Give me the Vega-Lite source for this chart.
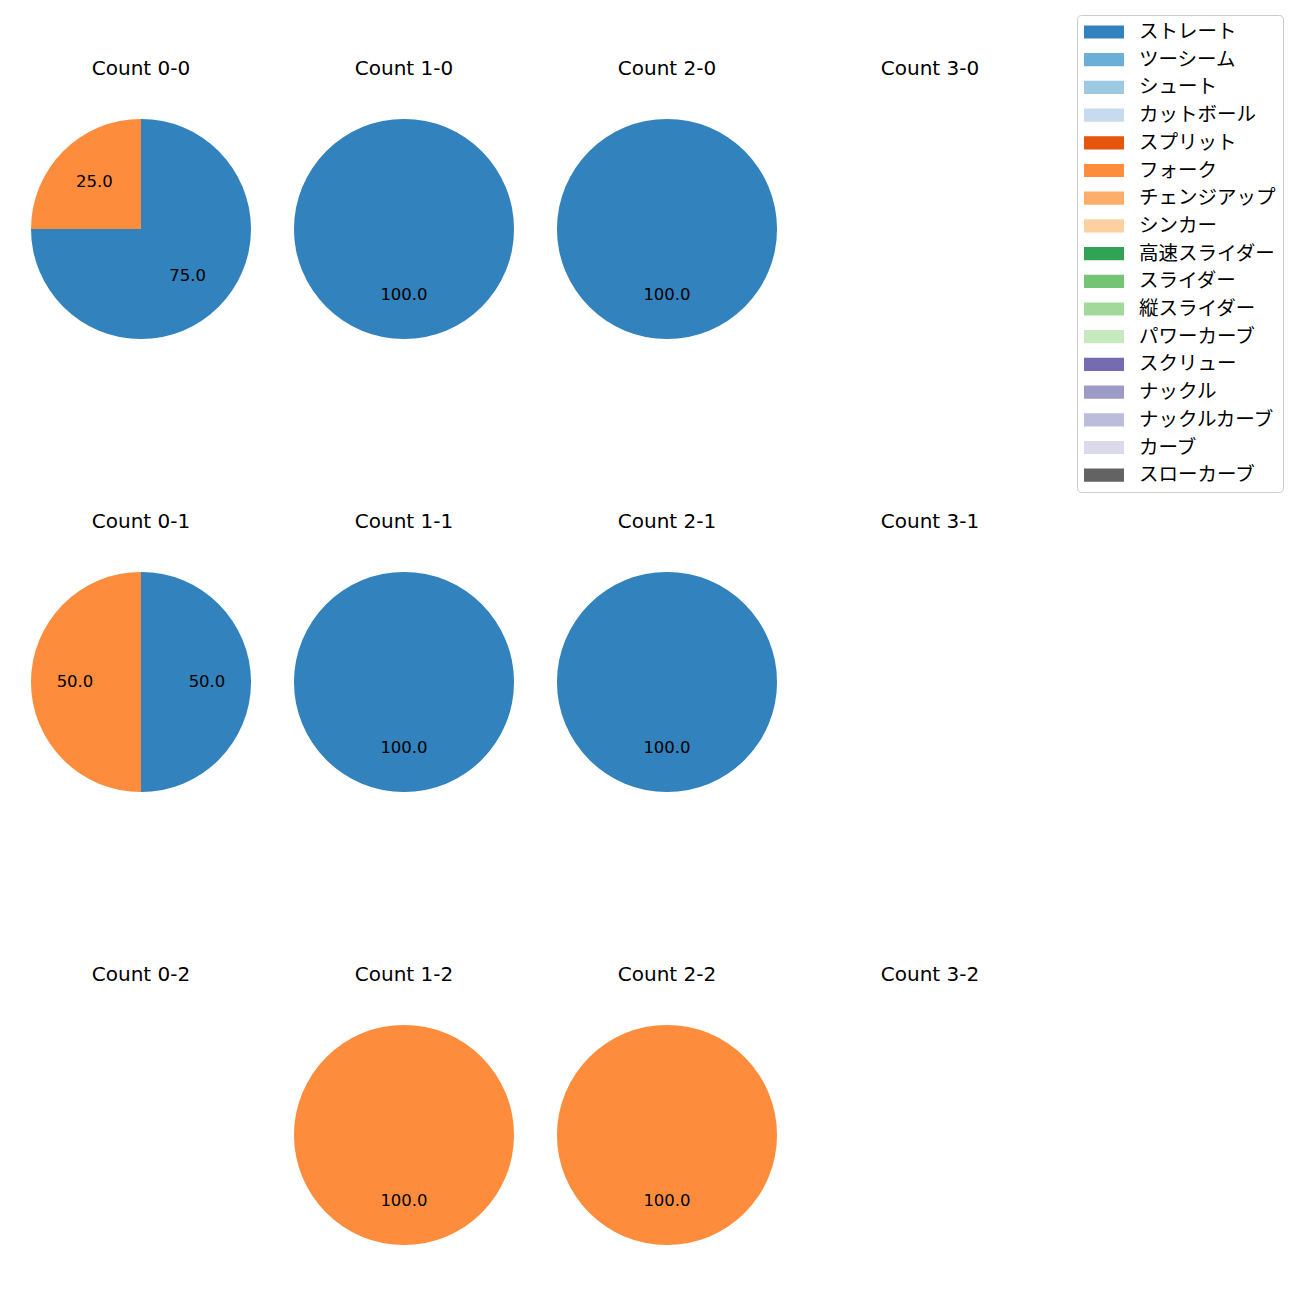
{
  "$schema": "https://vega.github.io/schema/vega-lite/v6.json",
  "padding": {"left": 31, "top": 14, "right": 0, "bottom": 0},
  "config": {"view": {"stroke": null}, "font": "DejaVu Sans"},
  "data": {"values": [
    {"count": "Count 0-0", "ord": 0, "pitch": "ストレート", "k": 0, "value": 75},
    {"count": "Count 0-0", "ord": 0, "pitch": "フォーク", "k": 5, "value": 25},
    {"count": "Count 1-0", "ord": 1, "pitch": "ストレート", "k": 0, "value": 100},
    {"count": "Count 2-0", "ord": 2, "pitch": "ストレート", "k": 0, "value": 100},
    {"count": "Count 3-0", "ord": 3, "pitch": "ストレート", "k": 0, "value": 0},
    {"count": "Count 0-1", "ord": 4, "pitch": "ストレート", "k": 0, "value": 50},
    {"count": "Count 0-1", "ord": 4, "pitch": "フォーク", "k": 5, "value": 50},
    {"count": "Count 1-1", "ord": 5, "pitch": "ストレート", "k": 0, "value": 100},
    {"count": "Count 2-1", "ord": 6, "pitch": "ストレート", "k": 0, "value": 100},
    {"count": "Count 3-1", "ord": 7, "pitch": "ストレート", "k": 0, "value": 0},
    {"count": "Count 0-2", "ord": 8, "pitch": "ストレート", "k": 0, "value": 0},
    {"count": "Count 1-2", "ord": 9, "pitch": "フォーク", "k": 5, "value": 100},
    {"count": "Count 2-2", "ord": 10, "pitch": "フォーク", "k": 5, "value": 100},
    {"count": "Count 3-2", "ord": 11, "pitch": "ストレート", "k": 0, "value": 0}
  ]},
  "facet": {"field": "count", "type": "nominal", "sort": {"field": "ord", "op": "min"},
    "header": {"title": null, "labelFontSize": 20, "labelFont": "DejaVu Sans", "labelColor": "#000000", "labelPadding": 40}},
  "columns": 4,
  "spacing": {"column": 43, "row": 173},
  "spec": {
    "width": 220,
    "height": 220,
    "layer": [
      {
        "mark": {"type": "arc", "outerRadius": 110},
        "encoding": {
          "theta": {"field": "value", "type": "quantitative", "stack": true, "scale": {"domain": [0, 100]}},
          "order": {"field": "k", "type": "quantitative"},
          "color": {"field": "pitch", "type": "nominal",
            "scale": {
              "domain": ["ストレート", "ツーシーム", "シュート", "カットボール", "スプリット", "フォーク", "チェンジアップ", "シンカー", "高速スライダー", "スライダー", "縦スライダー", "パワーカーブ", "スクリュー", "ナックル", "ナックルカーブ", "カーブ", "スローカーブ"],
              "range": ["#3182bd", "#6baed6", "#9ecae1", "#c6dbef", "#e6550d", "#fd8d3c", "#fdae6b", "#fdd0a2", "#31a354", "#74c476", "#a1d99b", "#c7e9c0", "#756bb1", "#9e9ac8", "#bcbddc", "#dadaeb", "#636363"]
            },
            "legend": {
              "title": null,
              "orient": "none",
              "legendX": 1046,
              "legendY": -104,
              "strokeColor": "#cccccc",
              "cornerRadius": 4,
              "padding": 7,
              "fillColor": "#ffffff",
              "labelFont": "Noto Sans CJK JP",
              "labelFontSize": 19.5,
              "labelColor": "#000000",
              "labelOffset": 25,
              "symbolType": "M-2,-0.66H2V0.66H-2Z",
              "symbolSize": 400,
              "symbolOffset": 10,
              "symbolStrokeWidth": 0,
              "symbolOpacity": 1,
              "rowPadding": 7.7
            }
          }
        }
      },
      {
        "transform": [{"filter": "datum.value > 0"}],
        "mark": {"type": "text", "radius": 66, "fontSize": 16.5, "font": "DejaVu Sans", "color": "#000000"},
        "encoding": {
          "theta": {"field": "value", "type": "quantitative", "stack": true, "scale": {"domain": [0, 100]}},
          "order": {"field": "k", "type": "quantitative"},
          "text": {"field": "value", "type": "quantitative", "format": ".1f"}
        }
      }
    ]
  }
}
